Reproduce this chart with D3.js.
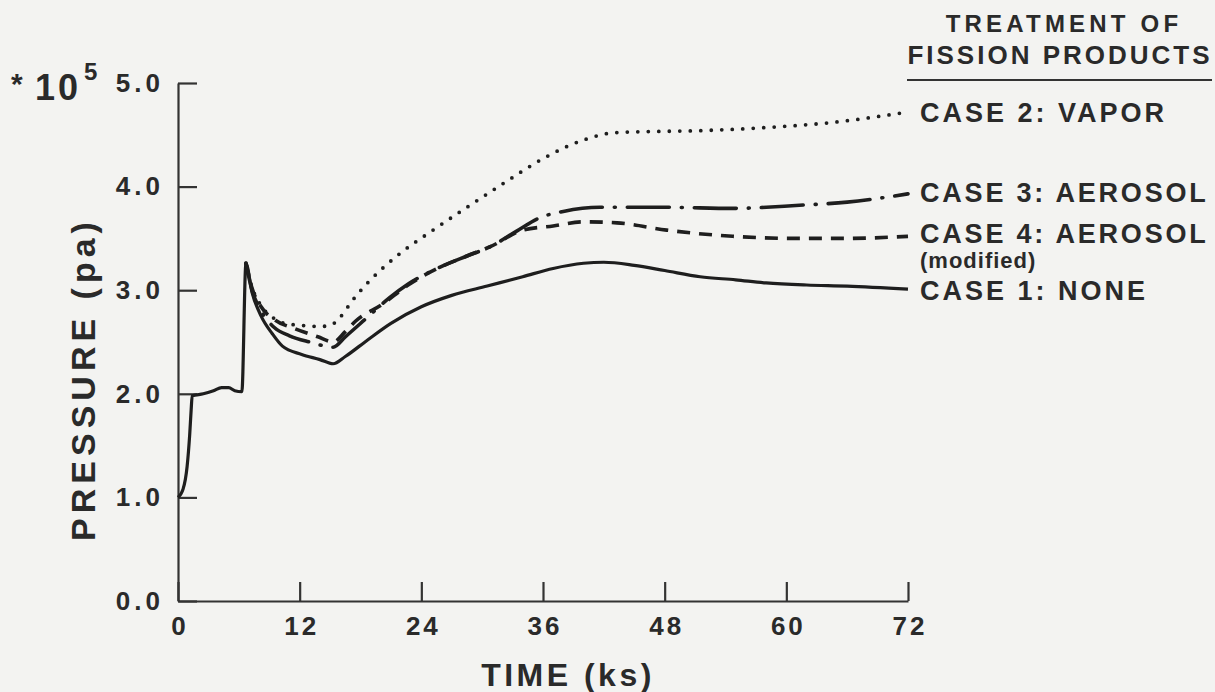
<!DOCTYPE html>
<html>
<head>
<meta charset="utf-8">
<script src="https://cdn.jsdelivr.net/npm/d3@7"></script>
<style>
  body { margin: 0; background: #f3f3f1; }
  text { font-family: "Liberation Sans", Arial, sans-serif; font-weight: bold; fill: #2a2a2a; }
</style>
</head>
<body>
<div id="chart"></div>
<script>
// tick values
const xTicks = [0, 12, 24, 36, 48, 60, 72];
const yTicks = [0, 1, 2, 3, 4, 5];

// case 1: none (solid)
const case1Time = [0, 0.5, 0.9, 1.15, 1.3, 1.4, 2.5, 3.5, 4.3, 5.0, 5.6, 6.3, 6.7, 7.3, 8.2, 9.3, 10.3, 12.2, 14.0, 15.3, 16.5, 18.7, 21.0, 24.0, 27.0, 30.5, 34.0, 37.0, 40.0, 42.0, 45.0, 48.0, 51.5, 55.0, 58.0, 62.0, 66.0, 72.0];
const case1Pres = [1.0, 1.08, 1.3, 1.6, 1.85, 1.98, 2.0, 2.03, 2.06, 2.06, 2.03, 2.02, 3.26, 2.98, 2.75, 2.58, 2.46, 2.38, 2.33, 2.29, 2.36, 2.52, 2.68, 2.84, 2.95, 3.04, 3.13, 3.21, 3.26, 3.27, 3.24, 3.19, 3.13, 3.10, 3.07, 3.05, 3.04, 3.01];

// case 2: vapor (dotted)
const case2Time = [6.7, 7.3, 8.2, 9.3, 10.5, 12.2, 14.0, 15.0, 16.0, 17.2, 18.7, 20.5, 22.1, 25.0, 28.5, 32.4, 36.0, 40.0, 43.0, 46.0, 51.5, 58.0, 64.6, 72.0];
const case2Pres = [3.26, 3.03, 2.85, 2.74, 2.68, 2.66, 2.65, 2.66, 2.74, 2.90, 3.07, 3.24, 3.37, 3.57, 3.80, 4.05, 4.27, 4.45, 4.52, 4.53, 4.54, 4.57, 4.62, 4.72];

// case 3: aerosol (dash-dot)
const case3Time = [6.7, 7.3, 8.2, 9.5, 11.0, 13.0, 15.3, 16.5, 18.7, 20.9, 22.7, 25.8, 28.5, 30.8, 33.4, 35.7, 38.0, 41.6, 45.0, 48.2, 54.7, 61.3, 66.0, 72.0];
const case3Pres = [3.26, 3.0, 2.80, 2.64, 2.56, 2.50, 2.45, 2.55, 2.74, 2.93, 3.06, 3.22, 3.33, 3.42, 3.57, 3.70, 3.76, 3.80, 3.80, 3.80, 3.79, 3.82, 3.85, 3.93];

// case 4: aerosol modified (dashed)
const case4Time = [6.7, 7.3, 8.2, 9.6, 11.5, 13.8, 15.3, 16.5, 17.5, 20.1, 22.7, 25.8, 28.5, 30.8, 34.0, 37.0, 40.0, 43.3, 48.2, 54.7, 61.3, 66.0, 72.0];
const case4Pres = [3.26, 3.02, 2.84, 2.71, 2.63, 2.55, 2.50, 2.60, 2.70, 2.86, 3.05, 3.22, 3.33, 3.42, 3.58, 3.62, 3.66, 3.65, 3.58, 3.52, 3.50, 3.50, 3.52];

const width = 1215;
const height = 692;

const svg = d3.select("#chart")
  .append("svg")
  .attr("width", width)
  .attr("height", height);

const x = d3.scaleLinear().domain([0, 72]).range([178, 908]);
const y = d3.scaleLinear().domain([0, 5]).range([601, 83]);

// axes
const yAxis = d3.axisLeft(y)
  .tickValues(yTicks)
  .tickSize(-19)
  .tickSizeOuter(0)
  .tickPadding(14)
  .tickFormat(d3.format(".1f"));

svg.append("g")
  .attr("transform", `translate(${x(0)},0)`)
  .call(yAxis)
  .call(g => g.selectAll("path, line").attr("stroke", "#333").attr("stroke-width", 2.2))
  .selectAll("text")
  .style("font-size", "26px")
  .style("letter-spacing", "4px")
  .attr("fill", "#2a2a2a");

const xAxis = d3.axisBottom(x)
  .tickValues(xTicks)
  .tickSize(-19)
  .tickSizeOuter(0)
  .tickPadding(16);

svg.append("g")
  .attr("transform", `translate(0,${y(0)})`)
  .call(xAxis)
  .call(g => g.selectAll("path, line").attr("stroke", "#333").attr("stroke-width", 2.2))
  .selectAll("text")
  .style("font-size", "26px")
  .style("letter-spacing", "3px")
  .attr("dx", "1.5px")
  .attr("fill", "#2a2a2a");

// axis titles
svg.append("text")
  .attr("x", 568)
  .attr("y", 686)
  .attr("text-anchor", "middle")
  .style("font-size", "32px")
  .style("letter-spacing", "3.5px")
  .text("TIME (ks)");

svg.append("text")
  .attr("transform", "translate(95,379) rotate(-90)")
  .attr("text-anchor", "middle")
  .style("font-size", "34px")
  .style("letter-spacing", "5px")
  .text("PRESSURE (pa)");

// multiplier
svg.append("text")
  .attr("x", 11)
  .attr("y", 94)
  .style("font-size", "30px")
  .text("*");
svg.append("text")
  .attr("x", 35)
  .attr("y", 100)
  .style("font-size", "36px")
  .style("letter-spacing", "3px")
  .text("10");
svg.append("text")
  .attr("x", 84)
  .attr("y", 80)
  .style("font-size", "24px")
  .text("5");

// lines
const line = d3.line()
  .x(d => x(d[0]))
  .y(d => y(d[1]))
  .curve(d3.curveMonotoneX);

const series = [
  { time: case1Time, pres: case1Pres, dash: null, width: 3.2, cap: "butt" },
  { time: case2Time, pres: case2Pres, dash: "0,10.5", width: 3.8, cap: "round" },
  { time: case3Time, pres: case3Pres, dash: "42,12,1,12", width: 3.6, cap: "round" },
  { time: case4Time, pres: case4Pres, dash: "13,9", width: 3.6, cap: "butt" }
];

series.forEach(s => {
  svg.append("path")
    .datum(d3.zip(s.time, s.pres))
    .attr("d", line)
    .attr("fill", "none")
    .attr("stroke", "#1e1e1e")
    .attr("stroke-width", s.width)
    .attr("stroke-linecap", s.cap)
    .attr("stroke-linejoin", "round")
    .attr("stroke-dasharray", s.dash);
});

// legend
svg.append("text")
  .attr("x", 1064)
  .attr("y", 32)
  .attr("text-anchor", "middle")
  .style("font-size", "24px")
  .style("letter-spacing", "4.2px")
  .text("TREATMENT OF");

svg.append("text")
  .attr("x", 1060)
  .attr("y", 64)
  .attr("text-anchor", "middle")
  .style("font-size", "26px")
  .style("letter-spacing", "3px")
  .text("FISSION PRODUCTS");

svg.append("line")
  .attr("x1", 907).attr("x2", 1212)
  .attr("y1", 80).attr("y2", 80)
  .attr("stroke", "#333")
  .attr("stroke-width", 2);

const legendLabels = [
  { text: "CASE 2: VAPOR", y: 122, size: 27, spacing: 3 },
  { text: "CASE 3: AEROSOL", y: 202, size: 27, spacing: 2.8 },
  { text: "CASE 4: AEROSOL", y: 243, size: 27, spacing: 2.8 },
  { text: "(modified)", y: 268, size: 22, spacing: 1 },
  { text: "CASE 1: NONE", y: 300, size: 27, spacing: 3 }
];

svg.selectAll(".legend")
  .data(legendLabels)
  .enter()
  .append("text")
  .attr("class", "legend")
  .attr("x", 920)
  .attr("y", d => d.y)
  .style("font-size", d => d.size + "px")
  .style("letter-spacing", d => d.spacing + "px")
  .text(d => d.text);
</script>
</body>
</html>
